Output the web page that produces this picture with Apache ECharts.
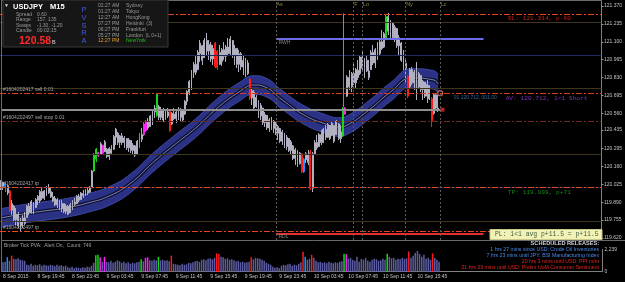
<!DOCTYPE html>
<html>
<head>
<meta charset="utf-8">
<script src="https://cdn.jsdelivr.net/npm/echarts@6/dist/echarts.min.js"></script>
<style>
html,body{margin:0;padding:0;background:#000;}
#chart{width:625px;height:282px;}
</style>
</head>
<body>
<div id="chart"></div>
<script>
// USDJPY M15, one candle per 15 min from 8 Sep 15:45: [open, close, low, high]
var candles = [
[119.990,120.040,119.982,120.057],[120.040,120.010,119.982,120.045],[120.010,120.030,119.967,120.042],[120.015,119.960,119.944,120.019],[119.975,119.830,119.816,119.982],
[119.830,119.880,119.793,119.906],[119.860,119.760,119.740,119.869],[119.760,119.800,119.718,119.846],[119.800,119.710,119.695,119.816],[119.710,119.745,119.665,119.771],
[119.745,119.770,119.695,119.793],[119.770,119.730,119.718,119.816],[119.775,119.860,119.771,119.869],[119.860,119.810,119.793,119.884],[119.810,119.895,119.805,119.906],
[119.885,119.820,119.801,119.891],[119.850,119.910,119.846,119.922],[119.905,119.935,119.869,119.944],[119.900,119.970,119.884,119.982],[119.970,119.920,119.906,119.997],
[119.920,119.975,119.906,119.982],[119.960,120.000,119.937,120.012],[120.000,119.960,119.952,120.027],[119.970,119.930,119.922,119.997],[119.930,119.900,119.891,119.967],
[119.920,119.870,119.861,119.937],[119.870,119.910,119.846,119.922],[119.900,119.840,119.831,119.906],[119.840,119.880,119.816,119.906],[119.880,119.820,119.808,119.884],
[119.820,119.860,119.801,119.876],[119.860,119.800,119.793,119.869],[119.810,119.870,119.808,119.884],[119.860,119.895,119.831,119.906],[119.890,119.875,119.861,119.922],
[119.880,119.935,119.876,119.944],[119.930,119.905,119.891,119.952],[119.910,119.960,119.906,119.967],[119.955,119.940,119.922,119.982],[119.945,119.985,119.937,119.990],
[119.980,119.960,119.944,119.997],[119.965,120.005,119.960,120.012],[120.005,120.125,119.995,120.133],[120.125,120.250,120.118,120.261],[120.215,120.290,120.193,120.299],
[120.265,120.240,120.231,120.269],[120.250,120.330,120.246,120.344],[120.320,120.260,120.246,120.321],[120.270,120.345,120.269,120.359],[120.290,120.235,120.223,120.299],
[120.235,120.295,120.208,120.306],[120.290,120.260,120.246,120.321],[120.290,120.385,120.284,120.397],[120.380,120.440,120.321,120.450],[120.410,120.340,120.321,120.420],
[120.340,120.390,120.299,120.397],[120.390,120.340,120.321,120.412],[120.340,120.375,120.299,120.389],[120.370,120.300,120.284,120.374],[120.300,120.360,120.269,120.374],
[120.355,120.280,120.261,120.359],[120.280,120.320,120.246,120.336],[120.315,120.245,120.231,120.321],[120.250,120.350,120.245,120.359],[120.310,120.405,120.299,120.412],
[120.400,120.365,120.344,120.450],[120.480,120.400,120.389,120.495],[120.430,120.500,120.420,120.510],[120.500,120.450,120.435,120.525],[120.460,120.540,120.457,120.548],
[120.530,120.570,120.472,120.585],[120.570,120.600,120.525,120.623],[120.545,120.705,120.533,120.714],[120.610,120.530,120.510,120.623],[120.530,120.590,120.510,120.608],
[120.590,120.510,120.495,120.601],[120.515,120.575,120.510,120.585],[120.570,120.540,120.525,120.601],[120.575,120.430,120.420,120.585],[120.480,120.560,120.472,120.570],
[120.555,120.520,120.510,120.601],[120.520,120.570,120.487,120.585],[120.570,120.530,120.510,120.608],[120.530,120.590,120.495,120.601],[120.585,120.510,120.495,120.585],
[120.555,120.650,120.548,120.661],[120.650,120.725,120.623,120.736],[120.720,120.800,120.698,120.812],[120.790,120.870,120.736,120.887],[120.870,120.930,120.827,120.948],
[120.930,120.870,120.849,121.000],[120.890,121.020,120.887,121.038],[121.010,121.090,120.948,121.113],[121.070,120.960,120.925,121.076],[120.980,121.110,120.978,121.128],
[121.110,121.030,121.000,121.166],[121.030,121.080,120.963,121.113],[121.075,120.970,120.948,121.098],[120.970,121.050,120.925,121.076],[121.090,120.915,120.902,121.098],
[121.030,120.905,120.887,121.038],[120.930,121.020,120.925,121.076],[120.950,121.040,120.918,121.053],[121.040,120.990,120.963,121.098],[120.990,121.060,120.948,121.076],
[121.060,121.010,120.993,121.128],[121.010,121.120,121.000,121.143],[121.110,121.000,120.978,121.113],[121.000,121.050,120.925,121.076],[121.050,120.930,120.902,121.053],
[120.930,121.010,120.872,121.038],[121.010,120.910,120.887,121.023],[120.910,120.960,120.849,121.000],[120.960,120.860,120.834,120.978],[120.860,120.940,120.849,120.963],
[120.820,120.675,120.661,120.827],[120.675,120.730,120.623,120.751],[120.720,120.600,120.585,120.736],[120.610,120.680,120.601,120.698],[120.655,120.540,120.525,120.661],
[120.540,120.620,120.510,120.638],[120.600,120.490,120.472,120.601],[120.490,120.550,120.457,120.570],[120.545,120.450,120.435,120.548],[120.450,120.510,120.420,120.525],
[120.510,120.445,120.435,120.533],[120.445,120.500,120.412,120.510],[120.495,120.410,120.397,120.495],[120.410,120.460,120.359,120.472],[120.445,120.350,120.336,120.450],
[120.350,120.420,120.321,120.435],[120.410,120.310,120.299,120.412],[120.310,120.380,120.284,120.397],[120.370,120.280,120.269,120.374],[120.280,120.345,120.246,120.359],
[120.315,120.220,120.208,120.321],[120.220,120.285,120.170,120.299],[120.280,120.170,120.155,120.284],[120.180,120.260,120.175,120.269],[120.255,120.120,120.110,120.261],
[120.120,120.215,120.110,120.223],[120.210,120.255,120.186,120.269],[120.250,120.190,120.170,120.284],[120.270,119.995,119.982,120.284],[119.995,120.255,119.967,120.269],
[120.255,120.340,120.246,120.359],[120.340,120.300,120.284,120.397],[120.310,120.400,120.306,120.412],[120.400,120.340,120.321,120.435],[120.340,120.440,120.336,120.450],
[120.440,120.380,120.359,120.472],[120.380,120.475,120.374,120.487],[120.470,120.370,120.359,120.472],[120.395,120.485,120.389,120.495],[120.470,120.350,120.336,120.472],
[120.400,120.500,120.397,120.510],[120.480,120.370,120.359,120.487],[120.370,120.420,120.336,120.472],[120.390,120.600,120.382,120.608],[120.600,120.555,120.548,120.608],
[120.690,120.835,120.683,120.849],[120.830,120.760,120.736,120.887],[120.760,120.860,120.721,120.872],[120.860,120.790,120.774,120.948],[120.790,120.890,120.751,120.902],
[120.885,120.830,120.812,120.963],[120.860,120.985,120.849,121.000],[120.985,120.900,120.887,121.038],[120.900,120.960,120.827,120.978],[120.960,120.880,120.872,121.000],
[120.880,120.830,120.812,120.963],[120.890,121.020,120.887,121.038],[121.020,120.940,120.925,121.076],[120.940,121.040,120.902,121.053],[121.040,120.980,120.963,121.098],
[121.010,121.100,121.000,121.113],[121.100,121.050,121.038,121.189],[121.060,121.160,121.053,121.173],[121.120,121.290,121.113,121.302],[121.290,121.180,121.151,121.317],
[121.180,121.240,121.128,121.264],[121.240,121.130,121.113,121.241],[121.130,121.210,121.098,121.226],[121.200,121.070,121.053,121.204],[121.070,121.130,121.000,121.151],
[121.090,120.960,120.948,121.098],[120.960,120.900,120.887,121.038],[120.900,120.940,120.789,120.963],[120.840,120.690,120.676,120.849],[120.760,120.890,120.751,120.902],
[120.890,120.790,120.774,120.910],[120.790,120.870,120.736,120.887],[120.870,120.700,120.661,120.948],[120.760,120.860,120.751,120.872],[120.845,120.740,120.721,120.849],
[120.740,120.800,120.661,120.812],[120.795,120.690,120.676,120.797],[120.690,120.780,120.638,120.812],[120.770,120.670,120.661,120.774],[120.670,120.500,120.457,120.683],
[120.560,120.700,120.548,120.714],[120.700,120.600,120.585,120.714],[120.600,120.588,120.570,120.698]
];

// broker tick volume per candle
var volumes = [
950,1000,1460,1100,1620,1300,1250,1350,1200,1150,
1100,700,650,800,600,700,650,750,600,700,
650,600,700,650,550,700,600,650,550,600,
450,400,500,350,450,400,350,450,400,500,
450,600,900,1650,1700,1460,1000,1500,1000,950,
1100,900,1000,1150,1050,900,1000,850,950,800,
900,850,950,1000,1250,1050,1400,1450,1150,1100,
1200,1150,1500,1150,1200,1100,1150,1050,1620,800,
750,700,650,800,700,750,900,850,950,1050,
1100,1000,1200,1250,1150,1300,1350,1250,1400,1850,
1800,1500,1450,1300,1350,1200,1250,1150,1050,1100,
950,1000,900,950,1000,1460,1250,1400,1350,1300,
1200,1100,900,800,700,500,400,450,350,600,
700,650,750,800,600,700,650,800,950,2000,
1500,1200,1300,1700,1400,1100,950,1000,900,950,
850,1000,900,850,950,900,1000,1050,1800,1750,
1300,1400,1200,1100,1500,1000,1300,1200,1400,1100,
1000,1200,1300,1250,1100,1150,1300,1200,1800,1500,
1350,1400,1200,1300,1250,1400,1300,1350,2040,1400,
1600,1900,2100,1800,1500,1700,1300,1400,1200,1850,
1400,1200,1000
];

// PVSRA bars: r = bear climax, g = bull climax, b / m = rising volume
var climaxBars = [[2,'b'],[4,'r'],[43,'g'],[44,'g'],[45,'m'],[47,'m'],[64,'g'],[66,'m'],[67,'m'],[72,'g'],[78,'r'],
  [99,'r'],[100,'r'],[115,'r'],[139,'r'],[140,'b'],[143,'r'],[158,'g'],[159,'m'],[178,'g'],[188,'r'],[199,'r']];

// moving average band (centre read every few candles)
var bandIdx = [0,10,20,30,40,50,60,70,80,90,100,110,117,122,130,140,150,156,160,170,180,190,200,202];
var bandMid = [119.771,119.801,119.824,119.847,119.884,119.937,120.035,120.186,120.321,120.450,120.601,120.721,
  120.774,120.759,120.661,120.548,120.480,120.457,120.472,120.585,120.721,120.827,120.812,120.782];
var bandHalf = 0.07;

var priceTicks = [121.370,121.235,121.100,120.965,120.830,120.695,120.560,120.435,120.295,120.160,120.025,119.890,119.755,119.620];
var volTicks = [0, 2239];
var timeLabels = ['8 Sep 2015','8 Sep 19:45','8 Sep 23:45','9 Sep 03:45','9 Sep 07:45','9 Sep 11:45','9 Sep 15:45',
  '9 Sep 19:45','9 Sep 23:45','10 Sep 03:45','10 Sep 07:45','10 Sep 11:45','10 Sep 15:45'];

var slPrice = 121.314, entryPrice = 120.712, sellStopPrice = 120.497, tpPrice = 119.999, tp2Price = 119.665;
var bidPrice = 120.588, rwhPrice = 121.12, rdlPrice = 119.655;
var quarterLevels = [121.25, 120.75, 120.25, 119.75];
var wholeLevels = [121.00, 120.00];
var sessions = [['As',127],['F',163],['Lo',167],['Ny',187],['Lc',203]];
var levelSpan = [127, 223];   // RWH / RDL drawn from Asia open onwards
var markerBar = 158, markerRange = [120.608, 121.314];   // grey vertical marker above the green bar

var headerStats = [['Spread','0.60'],['Range','157, 135'],['Swaps','-1.30, -1.20'],['Candle','00:02:15']];
var clocks = [['02:27 AM','Sydney'],['01:27 AM','Tokyo'],['12:27 AM','HongKong'],['07:27 PM','Helsinki  (3)'],
  ['06:27 PM','Frankfurt'],['05:27 PM','London  (L 0+1)'],['12:27 PM','NewYork']];
var releases = [
  ['1 hrs 27 mins since USD: Crude Oil Inventories','#4a8ae8'],
  ['7 hrs 23 mins until JPY: BSI Manufacturing Index','#4a8ae8'],
  ['20 hrs 3 mins until USD: PPI m/m','#e82222'],
  ['21 hrs 33 mins until USD: Prelim UoM Consumer Sentiment','#e82222']
];

var nCats = 278;
var cats = [];
for (var i = 0; i < nCats; i++) cats.push(String(i));

var pvsra = {r:'#ff1a1a', g:'#16d616', b:'#1e90ff', m:'#ff22ff'};
var typeOf = {};
climaxBars.forEach(function(c){ typeOf[c[0]] = c[1]; });

var candleData = candles.map(function(c, i){
    var col = typeOf[i] ? pvsra[typeOf[i]] : '#b0b0c0';
    return {value: c, itemStyle: {color: col, color0: col, borderColor: col, borderColor0: col}};
});
var volData = volumes.map(function(v, i){
    return {value: v, itemStyle: {color: typeOf[i] ? pvsra[typeOf[i]] : '#5c5ca2'}};
});
var bandLow = bandIdx.map(function(x, k){ return [x, bandMid[k] - bandHalf]; });
var bandFill = bandIdx.map(function(x){ return [x, bandHalf * 2]; });
var bandLine = bandIdx.map(function(x, k){ return [x, bandMid[k]]; });

var dashDot = [6, 2, 2, 2];
var orderRed = '#e8461c';
var sans = '"Liberation Sans", Arial, sans-serif';
var mono = '"Liberation Mono", "DejaVu Sans Mono", monospace';

function startLabel(text){
    return {show: true, position: 'insideStartTop', formatter: text, color: '#a8a8a8', fontSize: 5, fontFamily: sans, distance: [3, 1]};
}

var levelLines = [];
quarterLevels.forEach(function(p){ levelLines.push({yAxis: p, lineStyle: {color: '#40351f', width: 1, type: 'solid'}}); });
wholeLevels.forEach(function(p){ levelLines.push({yAxis: p, lineStyle: {color: '#1e2b60', width: 1, type: 'solid'}}); });
levelLines.push({yAxis: slPrice, lineStyle: {color: orderRed, width: 1, type: dashDot}});
levelLines.push({yAxis: entryPrice, lineStyle: {color: '#d83a1a', width: 1, type: dashDot}, label: startLabel('#1604202417 sell 0.01')});
levelLines.push({yAxis: sellStopPrice, lineStyle: {color: '#6a2a1c', width: 1, type: dashDot}, label: startLabel('#1604202497 sell stop 0.01')});
levelLines.push({yAxis: tpPrice, lineStyle: {color: orderRed, width: 1, type: dashDot}, label: startLabel('#1604202417 tp')});
levelLines.push({yAxis: tp2Price, lineStyle: {color: orderRed, width: 1, type: dashDot}, label: startLabel('#1604202497 tp')});
levelLines.push([{coord: [levelSpan[0], rwhPrice]}, {coord: [levelSpan[1], rwhPrice], lineStyle: {color: '#6c6ce8', width: 2, type: 'solid'}}]);
levelLines.push([{coord: [levelSpan[0], rdlPrice]}, {coord: [levelSpan[1], rdlPrice], lineStyle: {color: '#e03030', width: 2, type: 'solid'}}]);
levelLines.push([{coord: [markerBar, markerRange[0]]}, {coord: [markerBar, markerRange[1]], lineStyle: {color: '#8a8a8a', width: 1, type: 'solid'}}]);
sessions.forEach(function(s){
    levelLines.push({xAxis: String(s[1]), lineStyle: {color: '#5c5c5c', width: 1, type: [2, 2]}});
});

var notes = [
    {value: [234, 121.276], label: {formatter: 'SL: 121.314, p-60', color: '#ec2a24', fontFamily: mono, fontSize: 6.2}},
    {value: [209, 120.676], label: {formatter: '01 120.712, 001.00', color: '#3a82cc', fontFamily: sans, fontSize: 5}},
    {value: [233, 120.676], label: {formatter: 'AV: 120.712, 1<1 Short', color: '#9b3fe2', fontFamily: mono, fontSize: 6.2}},
    {value: [234, 119.967], label: {formatter: 'TP: 119.999, p+71', color: '#1fa21f', fontFamily: mono, fontSize: 6.2}},
    {value: [128, 121.092], label: {formatter: 'RWH', color: '#a0a0a0', fontFamily: sans, fontSize: 5}},
    {value: [128, 119.632], label: {formatter: 'RDL', color: '#a0a0a0', fontFamily: sans, fontSize: 5}}
];
sessions.forEach(function(s){
    notes.push({value: [s[1], 121.378], label: {formatter: s[0], color: '#b4a444', fontFamily: sans, fontSize: 5.5}});
});

function txt(x, y, s, color, font, align){
    return {type: 'text', x: x, y: y, z: 101, silent: true,
        style: {text: s, fill: color, font: font, align: align || 'left', verticalAlign: 'middle'}};
}

var graphics = [
    {type: 'line', z: 50, silent: true, shape: {x1: 1.5, y1: 0, x2: 1.5, y2: 272}, style: {stroke: '#6a6a6a', lineWidth: 1}},
    {type: 'line', z: 50, silent: true, shape: {x1: 1.5, y1: 0.5, x2: 602, y2: 0.5}, style: {stroke: '#6a6a6a', lineWidth: 1}},
    {type: 'line', z: 50, silent: true, shape: {x1: 1.5, y1: 240.5, x2: 625, y2: 240.5}, style: {stroke: '#6a6a6a', lineWidth: 1}},
    {type: 'rect', z: 100, silent: true, shape: {x: 3, y: 0, width: 165, height: 47}, style: {fill: '#161616', stroke: '#3a3a3a', lineWidth: 1}},
    txt(4, 6, '\u25BC', '#dddddd', '5px ' + sans),
    txt(13, 7, 'USDJPY', '#ffffff', 'bold 7.5px ' + sans),
    txt(50, 7, 'M15', '#ffffff', 'bold 7.5px ' + sans),
    txt(19, 41, '120.58', '#ff2a2a', 'bold 10.5px ' + sans),
    txt(52, 42, 'B', '#dddddd', '5.5px ' + sans),
    {type: 'rect', z: 100, silent: true, shape: {x: 490, y: 229.5, width: 112, height: 10}, style: {fill: '#f2f2b6', stroke: '#c8c88a', lineWidth: 1}},
    txt(495, 234.8, 'PL: 1<1 avg p+11.5 = p+11.5', '#3c5a3c', '6.4px ' + mono),
    txt(4, 245.5, 'Broker Tick PVA:  Alert On,  Count: 749', '#a0a0a0', '5px ' + sans),
    txt(599, 243, 'SCHEDULED RELEASES:', '#cfd0dc', 'bold 5.6px ' + sans, 'right')
];
headerStats.forEach(function(r, k){
    graphics.push(txt(16, 14.3 + k * 5.5, r[0], '#9a9a9a', '5px ' + sans));
    graphics.push(txt(37, 14.3 + k * 5.5, r[1], '#9a9a9a', '5px ' + sans));
});
'PVSRA'.split('').forEach(function(ch, k){
    graphics.push(txt(84, 10 + k * 7.8, ch, '#3f5de2', '7.5px ' + sans, 'center'));
});
clocks.forEach(function(r, k){
    var last = k === clocks.length - 1;
    graphics.push(txt(98, 5.7 + k * 5.9, r[0], last ? '#e0a030' : '#9a9a9a', '5px ' + sans));
    graphics.push(txt(126, 5.7 + k * 5.9, r[1], last ? '#22bb22' : '#9a9a9a', '5px ' + sans));
});
releases.forEach(function(r, k){
    graphics.push(txt(599, 250 + k * 5.8, r[0], r[1], '5.2px ' + sans, 'right'));
});

var chart = echarts.init(document.getElementById('chart'));
chart.setOption({
    backgroundColor: '#000000',
    animation: false,
    textStyle: {fontFamily: sans},
    grid: [
        {left: 0, right: 23, top: 0, height: 240},
        {left: 0, right: 23, top: 249.5, height: 22.2}
    ],
    xAxis: [
        {type: 'category', gridIndex: 0, data: cats, boundaryGap: true, show: false},
        {type: 'category', gridIndex: 1, data: cats, boundaryGap: true,
         axisLine: {lineStyle: {color: '#808080'}},
         axisTick: {interval: 15, alignWithLabel: true, length: 2, lineStyle: {color: '#9a9a9a'}},
         axisLabel: {interval: 15, align: 'left', margin: 2.5, fontSize: 5, color: '#c4c4c4',
            formatter: function(v, idx){ return timeLabels[idx / 16] || ''; }},
         splitLine: {show: false}}
    ],
    yAxis: [
        {type: 'value', gridIndex: 0, position: 'right', min: 119.605, max: 121.415,
         axisLine: {show: true, lineStyle: {color: '#808080'}},
         axisTick: {show: true, customValues: priceTicks, length: 2, lineStyle: {color: '#9a9a9a'}},
         axisLabel: {customValues: priceTicks, fontSize: 5, color: '#c4c4c4', margin: 2.5,
            formatter: function(v){ return v.toFixed(3); }},
         splitLine: {show: false}},
        {type: 'value', gridIndex: 1, position: 'right', min: 0, max: 2239,
         axisLine: {show: true, lineStyle: {color: '#808080'}},
         axisTick: {show: false},
         axisLabel: {customValues: volTicks, fontSize: 5, color: '#c4c4c4', margin: 2.5},
         splitLine: {show: false}}
    ],
    graphic: graphics,
    series: [
        {
            name: 'levels', type: 'line', xAxisIndex: 0, yAxisIndex: 0, data: [], z: 1,
            markLine: {silent: true, symbol: ['none', 'none'], animation: false, label: {show: false}, data: levelLines}
        },
        {
            name: 'bandLow', type: 'line', xAxisIndex: 0, yAxisIndex: 0, data: bandLow, stack: 'band',
            smooth: 0.5, showSymbol: false, z: 2, lineStyle: {color: '#3e48aa', width: 1}
        },
        {
            name: 'bandFill', type: 'line', xAxisIndex: 0, yAxisIndex: 0, data: bandFill, stack: 'band',
            smooth: 0.5, showSymbol: false, z: 2, lineStyle: {color: '#3e48aa', width: 1},
            areaStyle: {color: '#2b3286', opacity: 1}
        },
        {
            name: 'bandCore', type: 'line', xAxisIndex: 0, yAxisIndex: 0, data: bandLine,
            smooth: 0.5, showSymbol: false, z: 2, lineStyle: {color: '#0d1036', width: 3.5}
        },
        {
            name: 'bandCentre', type: 'line', xAxisIndex: 0, yAxisIndex: 0, data: bandLine,
            smooth: 0.5, showSymbol: false, z: 2, lineStyle: {color: '#9ea2c2', width: 0.8}
        },
        {
            name: 'USDJPY', type: 'candlestick', xAxisIndex: 0, yAxisIndex: 0, data: candleData,
            barWidth: 1.4, z: 3,
            markLine: {silent: true, symbol: ['none', 'none'], animation: false, label: {show: false},
                data: [
                    [{coord: [0, bidPrice]}, {coord: [203, bidPrice], lineStyle: {color: '#8e8e8e', width: 2, type: 'solid'}}],
                    {yAxis: bidPrice, lineStyle: {opacity: 0},
                     label: {show: true, position: 'end', formatter: bidPrice.toFixed(3), color: '#000', fontSize: 5,
                        backgroundColor: '#a8a8a8', padding: [1, 3, 0, 3], distance: 1}}
                ]}
        },
        {
            name: 'markers', type: 'scatter', xAxisIndex: 0, yAxisIndex: 0, z: 4,
            data: [
                {value: [203, entryPrice], symbol: 'circle', symbolSize: 5,
                 itemStyle: {color: 'rgba(0,0,0,0)', borderColor: '#f07878', borderWidth: 1.2}},
                {value: [204, bidPrice], symbol: 'rect', symbolSize: 4, itemStyle: {color: '#ff2020'}}
            ]
        },
        {
            name: 'notes', type: 'scatter', xAxisIndex: 0, yAxisIndex: 0, z: 5, symbolSize: 1,
            itemStyle: {color: 'rgba(0,0,0,0)'},
            label: {show: true, position: 'right', distance: 0},
            data: notes
        },
        {
            name: 'volume', type: 'bar', xAxisIndex: 1, yAxisIndex: 1, data: volData, barWidth: 1.5
        }
    ]
});
</script>
</body>
</html>
